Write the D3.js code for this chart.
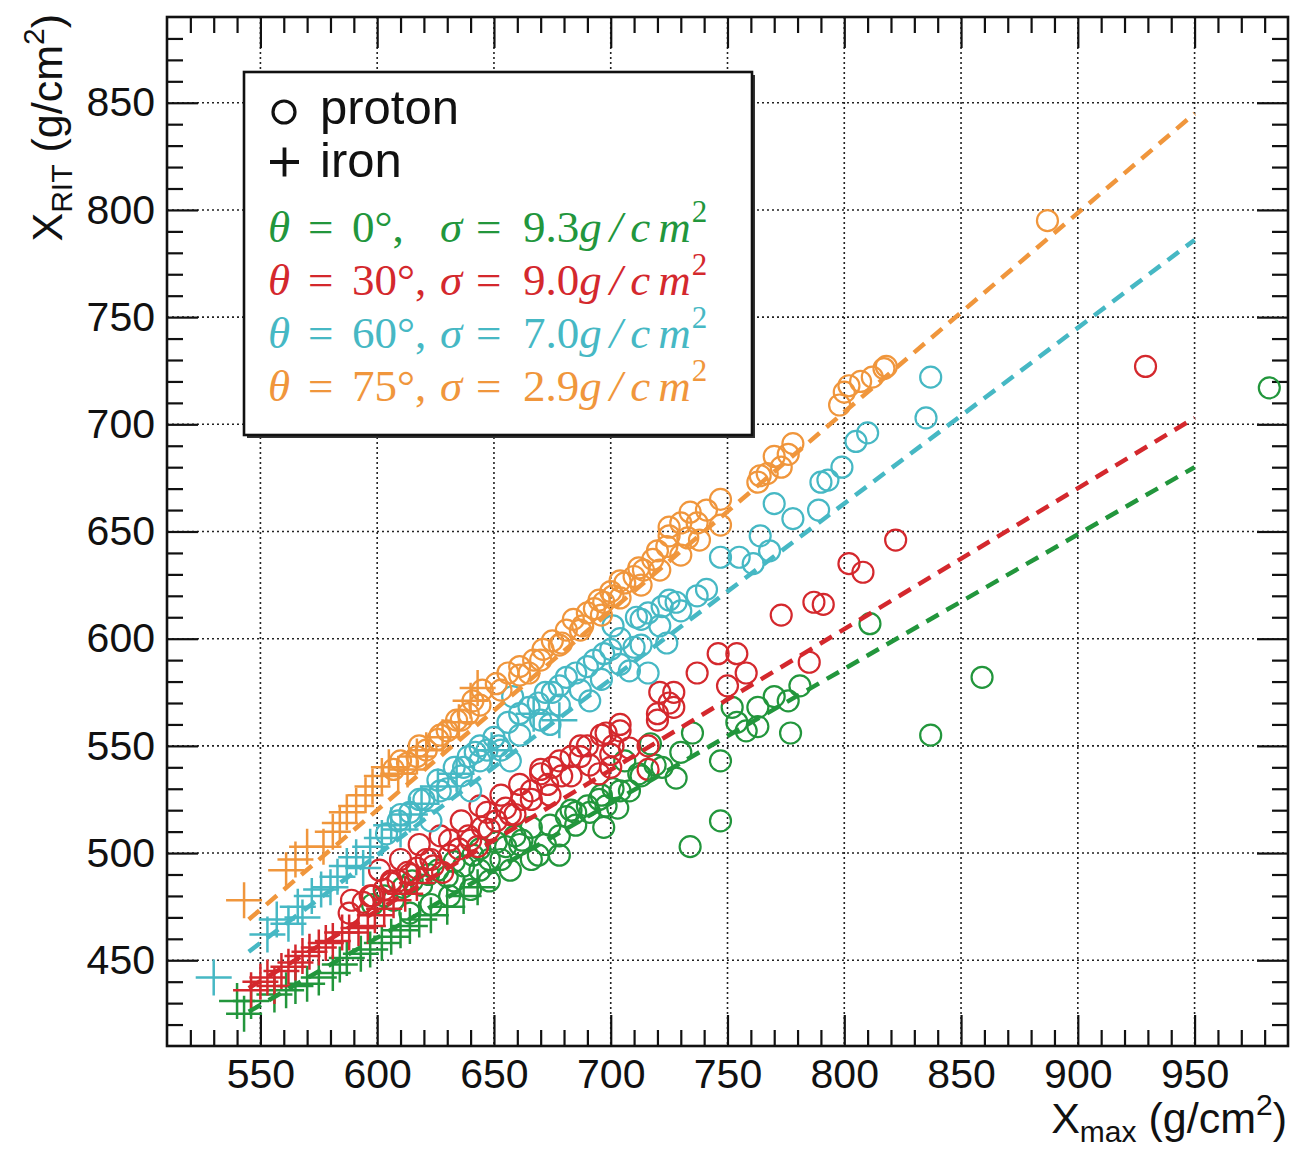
<!DOCTYPE html>
<html>
<head>
<meta charset="utf-8">
<script src="https://cdn.jsdelivr.net/npm/d3@7"></script>
<style>
  body { margin: 0; background: #fff; }
  svg text { font-family: "Liberation Sans", Arial, Helvetica, sans-serif; }
</style>
</head>
<body>
<div id="chart"></div>
<script>

// --- DATA ---

const angles = [0, 30, 60, 75];
const sigmas = ["9.3", "9.0", "7.0", "2.9"];
const colors = ["#22963c", "#d4282d", "#46b8c4", "#f0963c"];

// proton showers (open circles), [Xmax, X_RIT]
const protons0 = [[598,476],[603,480],[607,478],[611,484],[614,472],[615,487],[619,485],[622,490],[623,476],[626,492],[630,489],[631,480],[633,496],[633,487],[637,494],[640,483],[641,499],[644,502],[644,492],[648,497],[648,487],[651,505],[653,497],[655,503],[657,492],[659,508],[661,504],[662,506],[666,497],[666,512],[669,499],[672,504],[674,513],[678,499],[678,508],[681,517],[683,520],[685,519],[685,513],[690,522],[691,519],[695,525],[696,527],[697,512],[698,522],[701,530],[703,521],[704,529],[706,543],[708,529],[712,537],[713,536],[717,551],[719,541],[722,540],[728,535],[730,547],[734,503],[735,556],[747,543],[747,515],[752,568],[754,561],[758,557],[763,559],[763,568],[770,573],[776,571],[777,556],[781,578],[811,607],[837,555],[859,582],[982,717]];
const protons30 = [[588,472],[589,478],[594,477],[597,480],[598,480],[601,492],[603,483],[606,486],[606,487],[609,487],[610,497],[613,491],[614,490],[617,493],[618,504],[621,497],[623,497],[624,494],[627,508],[628,491],[631,506],[631,499],[635,502],[636,515],[639,508],[640,506],[643,503],[644,522],[645,512],[647,519],[648,511],[651,515],[653,527],[655,521],[657,518],[659,518],[661,532],[662,525],[666,529],[666,525],[670,537],[670,539],[673,532],[674,527],[675,540],[678,543],[679,536],[683,545],[683,536],[687,545],[687,550],[690,550],[691,541],[695,537],[696,555],[698,556],[700,540],[700,546],[701,550],[704,557],[704,560],[708,549],[716,539],[716,550],[720,562],[720,565],[721,575],[725,570],[727,568],[727,575],[737,584],[746,593],[750,578],[754,593],[758,584],[773,611],[785,589],[787,617],[791,616],[802,635],[808,631],[822,646],[929,727]];
const protons60 = [[604,509],[609,515],[610,518],[614,519],[618,525],[620,525],[623,515],[626,534],[627,529],[630,530],[633,540],[636,536],[637,540],[639,545],[640,529],[642,547],[644,550],[644,543],[647,548],[650,554],[652,550],[653,548],[656,561],[657,543],[658,573],[661,565],[661,555],[665,568],[669,570],[670,562],[672,575],[674,560],[675,575],[678,578],[678,569],[681,582],[685,584],[687,576],[690,587],[691,571],[693,590],[696,581],[697,593],[700,595],[701,606],[704,600],[704,588],[708,585],[710,596],[711,610],[713,609],[713,597],[716,584],[716,612],[721,606],[722,615],[724,598],[725,618],[728,617],[730,613],[737,620],[741,623],[747,638],[755,638],[761,635],[764,648],[768,641],[770,663],[778,656],[789,660],[790,673],[793,674],[799,680],[805,692],[810,696],[835,703],[837,722]];
const protons75 = [[607,539],[610,543],[613,542],[617,545],[618,550],[621,548],[626,553],[627,555],[630,557],[634,562],[636,562],[639,565],[641,571],[644,569],[645,576],[651,579],[653,576],[656,584],[661,587],[661,583],[665,584],[667,590],[670,590],[671,595],[675,599],[678,597],[679,598],[681,604],[684,609],[687,604],[688,606],[690,612],[693,614],[696,611],[695,618],[697,617],[700,622],[701,620],[704,627],[704,619],[706,626],[710,629],[712,633],[713,625],[714,632],[718,637],[720,641],[721,632],[724,643],[725,648],[725,652],[730,654],[730,639],[733,647],[734,659],[737,654],[738,646],[741,660],[747,665],[747,653],[763,673],[764,676],[767,677],[770,685],[773,680],[776,686],[778,691],[798,709],[800,715],[802,718],[807,720],[812,722],[817,726],[818,727],[887,795]];

// iron showers (crosses)
const iron0 = [[540,431],[543,425],[546,431],[556,434],[561,436],[565,438],[570,439],[575,442],[581,444],[584,448],[587,451],[593,453],[597,455],[602,458],[606,461],[610,464],[614,466],[618,469],[623,471],[630,475],[637,480],[643,484]];
const iron30 = [[546,436],[550,440],[553,442],[556,438],[559,445],[562,447],[565,449],[568,452],[571,454],[575,456],[578,458],[581,459],[585,463],[588,463],[592,465],[596,466],[599,471],[603,474],[607,478],[612,481],[617,486]];
const iron60 = [[530,442],[553,462],[557,469],[562,467],[566,475],[568,470],[572,480],[576,483],[580,484],[583,489],[587,494],[591,498],[594,493],[597,503],[602,507],[606,513],[610,511],[614,518],[619,523],[626,531],[634,537],[649,548],[667,565],[678,562]];
const iron75 = [[543,478],[561,492],[565,497],[570,503],[577,503],[581,510],[584,514],[587,519],[591,522],[595,527],[598,531],[602,536],[605,540],[609,537],[613,539],[617,545],[621,548],[628,554],[635,561],[640,571],[643,577]];

// linear fits, [start, end]
const fit0 = [[545,426],[950,680]];
const fit30 = [[545,437],[950,703]];
const fit60 = [[545,454],[950,786]];
const fit75 = [[545,469],[950,845]];

const xDomain = [510, 990];
const yDomain = [410, 890];

const series = angles.map((angle, i) => ({
    angle: angle,
    sigma: sigmas[i],
    color: colors[i],
    protons: [protons0, protons30, protons60, protons75][i],
    iron: [iron0, iron30, iron60, iron75][i],
    fit: [fit0, fit30, fit60, fit75][i]
}));


// --- LAYOUT ---

const W = 1291, H = 1149;
const margin = {top: 17, right: 3, bottom: 103, left: 167};
const width = W - margin.left - margin.right;
const height = H - margin.top - margin.bottom;

const svg = d3.select("#chart").append("svg")
    .attr("width", W)
    .attr("height", H);

const g = svg.append("g")
    .attr("transform", `translate(${margin.left},${margin.top})`);

const x = d3.scaleLinear().domain(xDomain).range([0, width]);
const y = d3.scaleLinear().domain(yDomain).range([height, 0]);

const xMajor = d3.range(550, 991, 50);
const yMajor = d3.range(450, 891, 50);
const xMinor = d3.range(520, 990, 10).filter(v => v % 50 !== 0);
const yMinor = d3.range(420, 890, 10).filter(v => v % 50 !== 0);

// grid
g.append("g").selectAll("line")
    .data(xMajor)
    .join("line")
    .attr("x1", d => x(d)).attr("x2", d => x(d))
    .attr("y1", 0).attr("y2", height)
    .attr("stroke", "#222").attr("stroke-width", 1.6)
    .attr("stroke-dasharray", "2,3");

g.append("g").selectAll("line")
    .data(yMajor)
    .join("line")
    .attr("y1", d => y(d)).attr("y2", d => y(d))
    .attr("x1", 0).attr("x2", width)
    .attr("stroke", "#222").attr("stroke-width", 1.6)
    .attr("stroke-dasharray", "2,3");

// axes (ticks inside the frame, on all four sides)
function styleAxis(sel) {
    sel.select(".domain").remove();
    sel.selectAll(".tick line").attr("stroke", "#111").attr("stroke-width", 2.2);
    sel.selectAll(".tick text").attr("fill", "#111").attr("font-size", 41);
}

g.append("g").attr("transform", `translate(0,${height})`)
    .call(d3.axisBottom(x).tickValues(xMajor).tickSize(-31).tickSizeOuter(0).tickPadding(13))
    .call(styleAxis);
g.append("g").attr("transform", `translate(0,${height})`)
    .call(d3.axisBottom(x).tickValues(xMinor).tickSize(-16).tickFormat(""))
    .call(styleAxis);
g.append("g")
    .call(d3.axisTop(x).tickValues(xMajor).tickSize(-31).tickFormat(""))
    .call(styleAxis);
g.append("g")
    .call(d3.axisTop(x).tickValues(xMinor).tickSize(-16).tickFormat(""))
    .call(styleAxis);

g.append("g")
    .call(d3.axisLeft(y).tickValues(yMajor).tickSize(-31).tickPadding(12))
    .call(styleAxis);
g.append("g")
    .call(d3.axisLeft(y).tickValues(yMinor).tickSize(-16).tickFormat(""))
    .call(styleAxis);
g.append("g").attr("transform", `translate(${width},0)`)
    .call(d3.axisRight(y).tickValues(yMajor).tickSize(-31).tickFormat(""))
    .call(styleAxis);
g.append("g").attr("transform", `translate(${width},0)`)
    .call(d3.axisRight(y).tickValues(yMinor).tickSize(-16).tickFormat(""))
    .call(styleAxis);


// --- MARKERS ---

const plot = g.append("g");
const crossHalf = 18;

series.forEach(s => {
    plot.append("g").selectAll("circle")
        .data(s.protons)
        .join("circle")
        .attr("cx", d => x(d[0]))
        .attr("cy", d => y(d[1]))
        .attr("r", 10.5)
        .attr("fill", "none")
        .attr("stroke", s.color)
        .attr("stroke-width", 2.2);

    plot.append("g").selectAll("path")
        .data(s.iron)
        .join("path")
        .attr("d", d => {
            const cx = x(d[0]), cy = y(d[1]);
            return `M${cx - crossHalf},${cy}H${cx + crossHalf}M${cx},${cy - crossHalf}V${cy + crossHalf}`;
        })
        .attr("fill", "none")
        .attr("stroke", s.color)
        .attr("stroke-width", 2.5);
});

// fit lines
const line = d3.line().x(d => x(d[0])).y(d => y(d[1]));
series.forEach(s => {
    plot.append("path")
        .datum(s.fit)
        .attr("d", line)
        .attr("fill", "none")
        .attr("stroke", s.color)
        .attr("stroke-width", 4.5)
        .attr("stroke-dasharray", "14,9");
});

// frame
g.append("rect")
    .attr("width", width).attr("height", height)
    .attr("fill", "none")
    .attr("stroke", "#111").attr("stroke-width", 2.6);


// --- LEGEND ---

const lg = svg.append("g").attr("transform", "translate(244,72)");
lg.append("rect")
    .attr("x", 3).attr("y", 3).attr("width", 508).attr("height", 363)
    .attr("fill", "#333");
lg.append("rect")
    .attr("width", 508).attr("height", 363)
    .attr("fill", "#fff").attr("stroke", "#111").attr("stroke-width", 2.6);

lg.append("circle")
    .attr("cx", 40).attr("cy", 40).attr("r", 11)
    .attr("fill", "none").attr("stroke", "#111").attr("stroke-width", 3.2);
lg.append("text").attr("x", 76).attr("y", 52)
    .attr("font-size", 49).attr("fill", "#111").text("proton");

lg.append("path")
    .attr("d", "M26,90H55M40.5,75.5V104.5")
    .attr("stroke", "#111").attr("stroke-width", 3.8);
lg.append("text").attr("x", 76).attr("y", 105)
    .attr("font-size", 49).attr("fill", "#111").text("iron");

series.forEach((s, i) => {
    const t = lg.append("text")
        .attr("y", 170 + i * 53)
        .attr("fill", s.color)
        .attr("font-size", 45)
        .style("font-family", "'Liberation Serif', 'Times New Roman', serif");
    t.append("tspan").attr("x", 24).attr("font-style", "italic").text("θ");
    t.append("tspan").attr("x", 64).text("=");
    t.append("tspan").attr("x", 108).text(`${s.angle}°,`);
    t.append("tspan").attr("x", 196).attr("font-style", "italic").text("σ");
    t.append("tspan").attr("x", 232).text("=");
    t.append("tspan").attr("x", 279).text(s.sigma);
    t.append("tspan").attr("font-style", "italic").attr("letter-spacing", 8).text("g/c");
    t.append("tspan").attr("font-style", "italic").text("m");
    t.append("tspan").attr("font-size", 31).attr("dy", -20).attr("dx", 1).text("2");
});


// --- AXIS TITLES ---

const xt = svg.append("text")
    .attr("x", 1287).attr("y", 1133)
    .attr("text-anchor", "end")
    .attr("font-size", 43).attr("fill", "#111");
xt.append("tspan").text("X");
xt.append("tspan").attr("font-size", 30).attr("dy", 9).text("max");
xt.append("tspan").attr("dy", -9).text(" (g/cm");
xt.append("tspan").attr("font-size", 30).attr("dy", -18).text("2");
xt.append("tspan").attr("dy", 18).text(")");

const yt = svg.append("text")
    .attr("transform", "translate(62,14) rotate(-90)")
    .attr("text-anchor", "end")
    .attr("font-size", 43).attr("fill", "#111");
yt.append("tspan").text("X");
yt.append("tspan").attr("font-size", 30).attr("dy", 10).text("RIT");
yt.append("tspan").attr("dy", -10).text(" (g/cm");
yt.append("tspan").attr("font-size", 30).attr("dy", -18).text("2");
yt.append("tspan").attr("dy", 18).text(")");

</script>
</body>
</html>
